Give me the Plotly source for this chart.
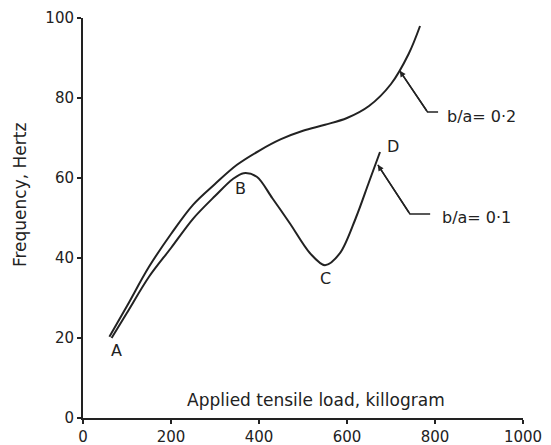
import plotly.graph_objects as go

# b/a = 0.2 curve
upper_x = [60, 100, 150, 200, 250, 300, 350, 400, 450, 500, 550, 600, 650, 700, 740, 766]
upper_y = [20.3, 28, 37.8, 46, 53.3, 58.5, 63.3, 66.8, 69.7, 71.8, 73.3, 75, 78, 83.5, 91, 98]

# b/a = 0.1 curve
lower_x = [65, 100, 150, 200, 250, 300, 340, 365, 395, 430, 470, 516, 550, 584, 620, 650, 675]
lower_y = [20, 26.3, 35.3, 42.5, 49.8, 55.5, 59.7, 61.2, 60.3, 55, 48.7, 41.2, 38.2, 41.2, 50, 59, 66.5]

# point labels
pt_labels = ["A", "B", "C", "D"]
pt_x = [77, 357, 550, 705]
pt_y = [17, 57.5, 35, 68]

# leader lines: tip, elbow, end ; label
lead_labels = ["b/a= 0·2", "b/a= 0·1"]
lead_tip_x = [720, 670]
lead_tip_y = [86.8, 63.3]
lead_elbow_x = [783, 743]
lead_elbow_y = [76.5, 51]
lead_end_x = [807, 789]
lead_text_x = [822, 811]
lead_text_y = [75.4, 50.2]

x_ticks = [0, 200, 400, 600, 800, 1000]
y_ticks = [0, 20, 40, 60, 80, 100]

INK = "#222222"
FONT = "DejaVu Sans"

fig = go.Figure()
fig.add_trace(go.Scatter(x=upper_x, y=upper_y, mode="lines", line=dict(color=INK, width=2, shape="spline", smoothing=1.0), showlegend=False))
fig.add_trace(go.Scatter(x=lower_x, y=lower_y, mode="lines", line=dict(color=INK, width=2, shape="spline", smoothing=0.9), showlegend=False))

for i in range(len(lead_labels)):
    fig.add_trace(go.Scatter(x=[lead_tip_x[i], lead_elbow_x[i], lead_end_x[i]],
                             y=[lead_tip_y[i], lead_elbow_y[i], lead_elbow_y[i]],
                             mode="lines", line=dict(color=INK, width=1.5), showlegend=False))
    fig.add_annotation(x=lead_tip_x[i], y=lead_tip_y[i], ax=lead_elbow_x[i], ay=lead_elbow_y[i],
                       axref="x", ayref="y", xref="x", yref="y", text="", showarrow=True,
                       arrowhead=2, arrowsize=0.8, arrowwidth=1.5, arrowcolor=INK)
    fig.add_annotation(x=lead_text_x[i], y=lead_text_y[i], text=lead_labels[i], showarrow=False,
                       xanchor="left", yanchor="middle", font=dict(family=FONT, size=16, color=INK))

for t, x, y in zip(pt_labels, pt_x, pt_y):
    fig.add_annotation(x=x, y=y, text=t, showarrow=False, xanchor="center", yanchor="middle",
                       font=dict(family=FONT, size=16, color=INK))

fig.add_annotation(x=530, y=4.5, text="Applied tensile load, killogram", showarrow=False,
                   xanchor="center", yanchor="middle", font=dict(family=FONT, size=17, color=INK))
fig.add_annotation(xref="paper", yref="paper", x=-0.143, y=0.5575, text="Frequency, Hertz",
                   textangle=-90, showarrow=False, xanchor="center", yanchor="middle",
                   font=dict(family=FONT, size=17, color=INK))

fig.update_layout(
    width=543, height=437,
    margin=dict(l=75, r=28, t=10, b=27, autoexpand=False),
    paper_bgcolor="white", plot_bgcolor="white",
    xaxis=dict(range=[0, 1000], tickvals=x_ticks, ticktext=[str(v) for v in x_ticks],
               automargin=False,
               showgrid=False, zeroline=False, showline=True, linecolor=INK, linewidth=2,
               ticks="outside", ticklen=4, tickwidth=2, tickcolor=INK,
               tickfont=dict(family=FONT, size=15, color=INK)),
    yaxis=dict(range=[0, 100], tickvals=y_ticks, ticktext=[str(v) for v in y_ticks],
               automargin=False,
               showgrid=False, zeroline=False, showline=True, linecolor=INK, linewidth=2,
               ticks="outside", ticklen=4, tickwidth=2, tickcolor=INK,
               tickfont=dict(family=FONT, size=15, color=INK)),
)

fig.write_html("out.html")
